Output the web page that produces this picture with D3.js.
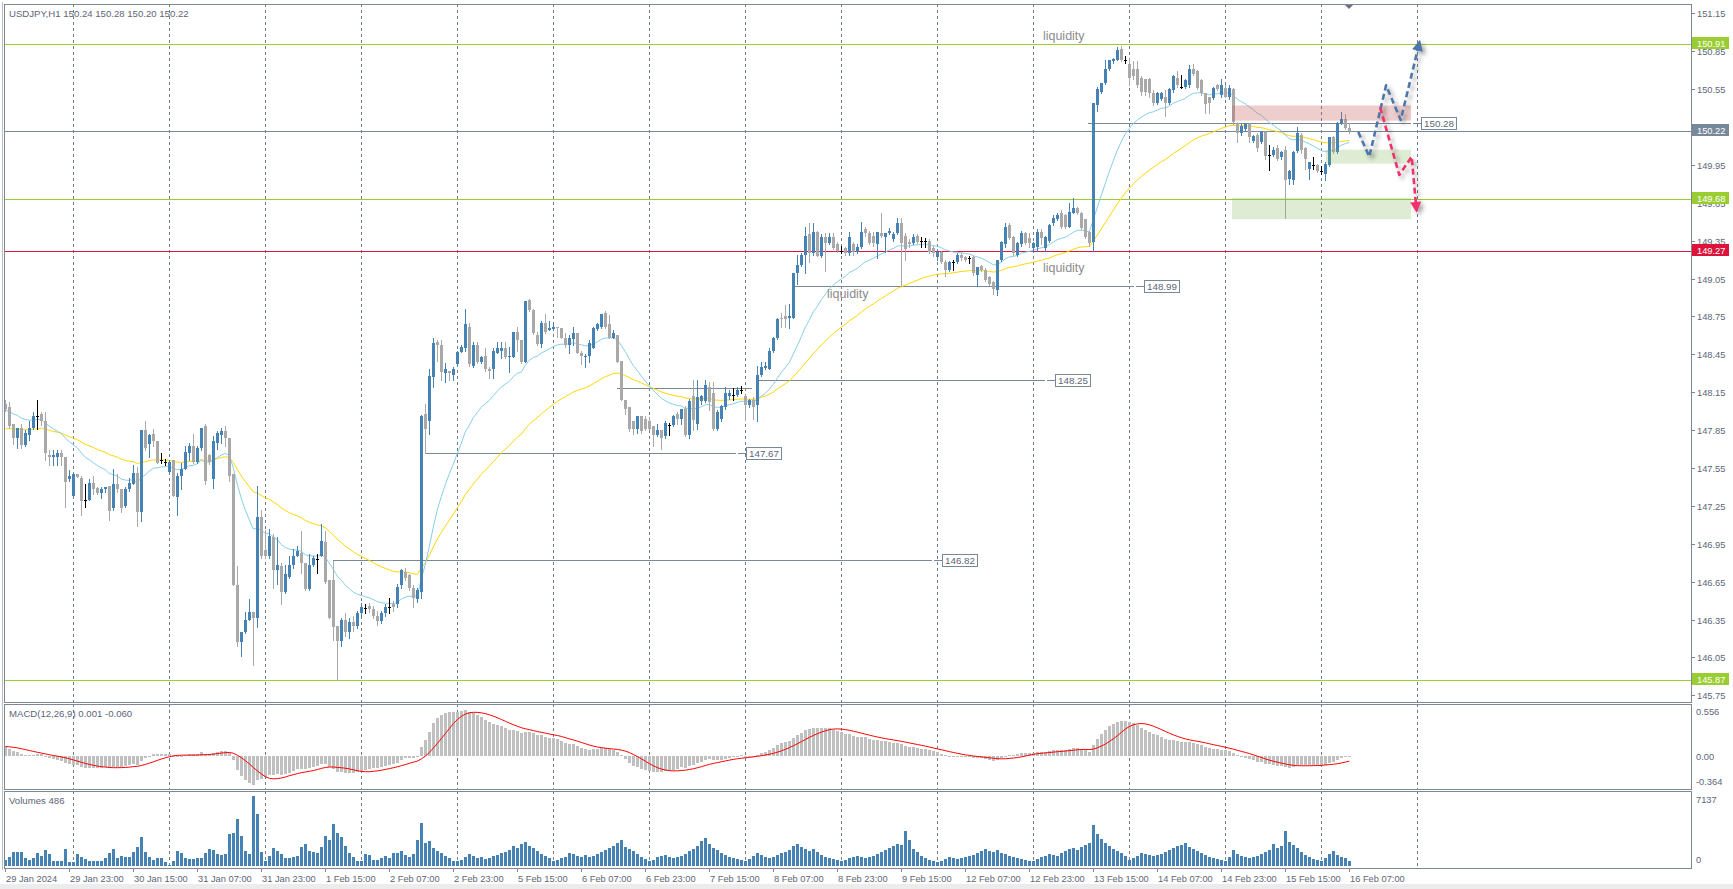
<!DOCTYPE html>
<html><head><meta charset="utf-8">
<script src="https://cdn.jsdelivr.net/npm/d3@7"></script>
<style>
html,body{margin:0;padding:0;background:#fff;}
svg{display:block;font-family:'Liberation Sans',Arial,sans-serif;}
</style></head><body>
<svg id="chart" width="1733" height="889"></svg>
<script>
// ---------------- DATA ----------------
const chartTitle = "USDJPY,H1  150.24 150.28 150.20 150.22";
const macdTitle = "MACD(12,26,9) 0.001 -0.060";
const volTitle = "Volumes 486";
// bar 0 = 29 Jan 2024 07:00, one bar per hour (trading hours only)
const timeLabels = ["29 Jan 2024","29 Jan 23:00","30 Jan 15:00","31 Jan 07:00","31 Jan 23:00","1 Feb 15:00","2 Feb 07:00","2 Feb 23:00","5 Feb 15:00","6 Feb 07:00","6 Feb 23:00","7 Feb 15:00","8 Feb 07:00","8 Feb 23:00","9 Feb 15:00","12 Feb 07:00","12 Feb 23:00","13 Feb 15:00","14 Feb 07:00","14 Feb 23:00","15 Feb 15:00","16 Feb 07:00"];
const labelEvery = 16;
const dayStartBars = [17,41,65,89,113,137,161,185,209,233,257,281,305,329,353];

const openP = [
148.06,148.03,147.90,147.79,147.87,147.73,147.81,147.87,147.96,147.98,
147.92,147.65,147.64,147.64,147.67,147.64,147.46,147.33,147.50,147.47,
147.30,147.30,147.43,147.39,147.35,147.38,147.41,147.23,147.42,147.38,
147.25,147.38,147.42,147.51,147.20,147.85,147.74,147.82,147.76,147.61,
147.60,147.52,147.61,147.32,147.49,147.54,147.67,147.72,147.60,147.71,
147.88,147.65,147.46,147.75,147.81,147.84,147.79,147.50,146.62,146.17,
146.25,146.35,146.41,146.36,147.16,146.90,146.85,147.00,146.74,146.77,
146.57,146.69,146.78,146.85,146.88,146.80,146.59,146.78,146.83,146.85,
146.96,146.66,146.66,146.30,146.18,146.35,146.25,146.33,146.30,146.40,
146.44,146.46,146.43,146.38,146.34,146.40,146.45,146.47,146.47,146.62,
146.73,146.70,146.60,146.51,146.57,147.98,147.92,148.27,148.55,148.52,
148.30,148.32,148.29,148.37,148.47,148.50,148.67,148.36,148.52,148.39,
148.44,148.33,148.33,148.46,148.48,148.50,148.43,148.43,148.63,148.56,
148.39,148.88,148.80,148.60,148.53,148.70,148.64,148.65,148.67,148.66,
148.58,148.52,148.57,148.62,148.46,148.43,148.44,148.50,148.65,148.67,
148.78,148.69,148.58,148.60,148.40,148.09,148.03,147.92,147.86,147.96,
147.94,147.92,147.88,147.81,147.85,147.80,147.89,147.89,147.98,147.94,
148.02,147.81,148.12,147.90,148.08,148.08,148.19,148.14,147.86,147.94,
148.03,148.12,148.13,148.13,148.17,148.12,148.05,148.09,148.05,148.29,
148.34,148.33,148.48,148.58,148.74,148.75,148.74,148.74,149.09,149.16,
149.24,149.40,149.25,149.42,149.23,149.38,149.33,149.38,149.32,149.27,
149.29,149.25,149.32,149.26,149.30,149.44,149.41,149.39,149.32,149.41,
149.38,149.41,149.36,149.41,149.49,149.39,149.34,149.33,149.39,149.35,
149.35,149.35,149.29,149.22,149.26,149.18,149.12,149.18,149.18,149.24,
149.22,149.21,149.22,149.08,149.15,149.12,149.06,149.02,148.96,149.20,
149.32,149.47,149.38,149.24,149.32,149.41,149.37,149.29,149.30,149.42,
149.29,149.35,149.49,149.52,149.57,149.55,149.46,149.57,149.61,149.57,
149.52,149.42,149.34,150.42,150.53,150.60,150.71,150.77,150.78,150.87,
150.78,150.75,150.71,150.71,150.64,150.63,150.63,150.52,150.44,150.47,
150.49,150.44,150.54,150.64,150.57,150.57,150.58,150.71,150.69,150.62,
150.52,150.49,150.48,150.58,150.50,150.56,150.49,150.55,150.28,150.20,
150.23,150.27,150.14,150.19,150.13,150.21,150.03,150.03,150.08,150.01,
150.07,149.84,149.83,150.06,150.19,150.08,149.92,149.95,149.95,149.90,
149.88,149.95,150.17,150.05,150.28,150.31,150.24];
const highP = [
148.09,148.07,147.90,147.87,147.90,147.85,147.92,147.99,148.09,147.99,
147.99,147.69,147.69,147.69,147.69,147.64,147.53,147.50,147.50,147.49,
147.42,147.46,147.49,147.40,147.40,147.40,147.41,147.54,147.50,147.38,
147.40,147.47,147.57,147.56,147.85,147.92,147.82,147.86,147.76,147.67,
147.62,147.61,147.61,147.51,147.59,147.72,147.75,147.82,147.72,147.87,
147.90,147.66,147.80,147.84,147.87,147.88,147.79,147.50,146.77,146.25,
146.41,146.51,146.41,147.41,147.22,147.06,147.07,147.03,147.00,146.80,
146.78,146.85,146.91,146.93,147.05,146.80,146.87,146.85,146.87,147.11,
147.05,146.66,146.81,146.30,146.36,146.40,146.36,146.38,146.42,146.48,
146.47,146.48,146.46,146.42,146.42,146.47,146.52,146.50,146.63,146.75,
146.76,146.71,146.62,146.60,147.97,148.06,148.33,148.58,148.56,148.56,
148.38,148.32,148.35,148.48,148.52,148.81,148.70,148.55,148.55,148.44,
148.50,148.35,148.50,148.55,148.55,148.55,148.51,148.63,148.67,148.56,
148.87,148.89,148.81,148.63,148.71,148.77,148.71,148.69,148.67,148.66,
148.62,148.60,148.67,148.62,148.48,148.45,148.56,148.67,148.70,148.77,
148.79,148.76,148.64,148.60,148.40,148.09,148.03,147.92,147.96,147.96,
147.96,147.95,147.88,147.90,147.85,147.92,147.91,147.97,147.99,148.02,
148.04,148.10,148.25,148.25,148.13,148.25,148.23,148.23,148.01,148.05,
148.19,148.17,148.18,148.19,148.20,148.13,148.10,148.11,148.36,148.39,
148.39,148.50,148.59,148.74,148.78,148.84,148.85,149.09,149.24,149.25,
149.46,149.49,149.49,149.43,149.40,149.41,149.41,149.41,149.34,149.31,
149.30,149.42,149.34,149.32,149.50,149.46,149.43,149.42,149.42,149.57,
149.41,149.45,149.42,149.53,149.53,149.41,149.36,149.40,149.40,149.38,
149.37,149.36,149.31,149.28,149.27,149.20,149.19,149.20,149.25,149.25,
149.23,149.23,149.23,149.14,149.16,149.13,149.07,149.03,149.20,149.35,
149.49,149.49,149.39,149.34,149.43,149.42,149.41,149.34,149.44,149.44,
149.39,149.48,149.55,149.57,149.59,149.56,149.65,149.69,149.62,149.58,
149.52,149.43,150.44,150.57,150.60,150.78,150.78,150.80,150.88,150.89,
150.81,150.79,150.77,150.77,150.65,150.63,150.64,150.54,150.53,150.53,
150.54,150.56,150.66,150.69,150.66,150.63,150.74,150.75,150.70,150.63,
150.52,150.49,150.57,150.59,150.63,150.58,150.58,150.56,150.29,150.27,
150.28,150.28,150.19,150.20,150.22,150.22,150.11,150.09,150.11,150.06,
150.10,149.91,150.06,150.25,150.20,150.09,149.97,150.01,149.96,149.94,
149.97,150.17,150.18,150.29,150.37,150.35,150.28];
const lowP = [
148.00,147.87,147.74,147.71,147.71,147.72,147.77,147.86,147.86,147.89,
147.61,147.57,147.57,147.57,147.57,147.24,147.45,147.32,147.48,147.18,
147.24,147.30,147.34,147.34,147.31,147.36,147.14,147.22,147.36,147.20,
147.24,147.37,147.42,147.09,147.13,147.69,147.64,147.72,147.59,147.59,
147.57,147.51,147.33,147.18,147.38,147.54,147.61,147.59,147.59,147.69,
147.42,147.58,147.39,147.70,147.75,147.72,147.45,146.62,146.14,146.06,
146.24,146.35,145.99,146.29,146.84,146.84,146.84,146.60,146.63,146.47,
146.56,146.68,146.76,146.85,146.72,146.58,146.58,146.77,146.72,146.85,
146.64,146.36,146.19,145.87,146.14,146.22,146.20,146.26,146.28,146.36,
146.40,146.41,146.36,146.31,146.32,146.38,146.40,146.42,146.45,146.60,
146.66,146.58,146.45,146.49,146.52,147.67,147.82,148.19,148.40,148.25,
148.23,148.25,148.25,148.36,148.47,148.48,148.36,148.35,148.38,148.38,
148.32,148.26,148.26,148.46,148.42,148.42,148.31,148.43,148.48,148.38,
148.39,148.79,148.61,148.52,148.51,148.62,148.64,148.64,148.59,148.58,
148.51,148.46,148.52,148.46,148.37,148.35,148.39,148.50,148.64,148.66,
148.66,148.58,148.58,148.39,148.09,147.98,147.84,147.82,147.83,147.83,
147.85,147.86,147.72,147.80,147.70,147.79,147.81,147.88,147.90,147.90,
147.80,147.79,147.85,147.86,148.06,148.07,148.01,147.85,147.85,147.92,
148.02,148.10,148.09,148.12,148.14,147.93,148.03,147.94,147.92,148.28,
148.33,148.33,148.47,148.57,148.67,148.67,148.66,148.74,149.01,149.15,
149.09,149.18,149.24,149.23,149.22,149.11,149.32,149.28,149.26,149.25,
149.24,149.24,149.24,149.25,149.29,149.39,149.32,149.31,149.21,149.38,
149.26,149.40,149.35,149.40,149.00,149.20,149.30,149.32,149.33,149.30,
149.30,149.25,149.23,149.20,149.17,149.07,149.11,149.12,149.17,149.20,
149.19,149.17,149.08,148.99,149.11,149.03,149.00,148.93,148.92,149.19,
149.30,149.36,149.24,149.23,149.31,149.32,149.30,149.27,149.27,149.32,
149.27,149.34,149.47,149.51,149.45,149.45,149.46,149.57,149.56,149.44,
149.37,149.31,149.27,150.38,150.52,150.59,150.70,150.76,150.78,150.77,
150.76,150.58,150.63,150.57,150.50,150.50,150.49,150.42,150.43,150.46,
150.34,150.43,150.53,150.57,150.56,150.56,150.57,150.66,150.55,150.50,
150.36,150.36,150.47,150.54,150.49,150.49,150.47,150.27,150.13,150.19,
150.22,150.13,150.13,150.06,150.12,150.00,149.91,150.02,149.99,150.00,
149.53,149.80,149.80,150.05,150.04,149.92,149.84,149.92,149.89,149.88,
149.83,149.94,150.04,150.04,150.27,150.23,150.20];
const closeP = [
148.02,147.88,147.79,147.87,147.73,147.83,147.87,147.96,147.96,147.92,
147.67,147.64,147.65,147.67,147.64,147.44,147.49,147.50,147.48,147.29,
147.30,147.43,147.38,147.35,147.38,147.40,147.21,147.42,147.38,147.23,
147.38,147.43,147.51,147.20,147.85,147.71,147.81,147.76,147.59,147.61,
147.60,147.60,147.33,147.49,147.54,147.68,147.72,147.60,147.71,147.87,
147.45,147.60,147.76,147.83,147.84,147.79,147.49,146.62,146.17,146.25,
146.35,146.41,146.36,147.16,146.85,146.85,147.01,146.74,146.78,146.57,
146.71,146.78,146.85,146.89,146.80,146.59,146.78,146.84,146.83,146.97,
146.65,146.36,146.29,146.18,146.35,146.25,146.33,146.30,146.40,146.45,
146.44,146.43,146.38,146.34,146.40,146.45,146.45,146.45,146.61,146.74,
146.68,146.60,146.52,146.58,147.96,147.86,148.28,148.54,148.52,148.31,
148.33,148.30,148.33,148.47,148.51,148.69,148.37,148.52,148.39,148.43,
148.33,148.32,148.48,148.50,148.50,148.43,148.44,148.63,148.56,148.39,
148.87,148.80,148.62,148.53,148.70,148.63,148.66,148.67,148.66,148.58,
148.52,148.58,148.62,148.46,148.44,148.44,148.54,148.66,148.69,148.77,
148.67,148.58,148.62,148.39,148.09,148.02,147.86,147.86,147.96,147.84,
147.86,147.86,147.81,147.85,147.79,147.91,147.89,147.96,147.94,148.02,
147.81,148.08,147.93,148.11,148.12,148.21,148.07,147.86,147.99,148.04,
148.14,148.14,148.13,148.17,148.17,148.05,148.09,148.03,148.29,148.35,
148.36,148.48,148.58,148.73,148.73,148.73,148.75,149.09,149.16,149.24,
149.39,149.25,149.42,149.23,149.38,149.33,149.38,149.29,149.27,149.27,
149.25,149.38,149.26,149.30,149.42,149.41,149.33,149.33,149.42,149.39,
149.41,149.43,149.40,149.49,149.33,149.28,149.32,149.38,149.34,149.35,
149.35,149.26,149.25,149.26,149.18,149.12,149.18,149.18,149.24,149.21,
149.20,149.21,149.09,149.14,149.12,149.04,149.01,148.97,149.20,149.34,
149.46,149.37,149.25,149.33,149.41,149.33,149.33,149.33,149.42,149.37,
149.38,149.47,149.53,149.55,149.46,149.46,149.58,149.61,149.57,149.45,
149.38,149.33,150.44,150.55,150.60,150.71,150.78,150.79,150.86,150.78,
150.78,150.64,150.65,150.58,150.53,150.53,150.52,150.44,150.52,150.52,
150.44,150.55,150.65,150.58,150.57,150.62,150.71,150.67,150.56,150.52,
150.43,150.44,150.56,150.55,150.58,150.49,150.56,150.29,150.20,150.26,
150.27,150.17,150.18,150.08,150.21,150.02,150.03,150.07,150.00,150.05,
149.83,149.90,150.05,150.20,150.07,150.00,149.97,149.95,149.90,149.90,
149.96,150.17,150.05,150.28,150.31,150.24,150.22];
const volumes = [
612,950,1394,1394,1394,782,612,850,1292,1054,
1632,1224,544,510,510,1700,408,408,1224,952,
680,510,510,510,510,850,1292,1700,850,1020,
952,952,1394,1972,2992,1394,952,612,782,850,
408,100,510,1530,1292,782,714,714,850,850,
1292,1700,1632,1224,1122,1190,3230,3400,4828,3094,
1530,1224,7137,5304,1462,544,1054,1870,1564,1224,
850,782,952,1020,1972,2244,1530,1462,1292,1972,
3060,2652,4284,3332,2924,2074,1292,952,510,510,
1224,1122,612,612,850,1054,850,1292,1300,1500,
1100,900,1200,2600,4400,2300,2500,1800,1500,1300,
1000,800,500,500,600,900,1200,1000,800,900,
700,800,1000,1100,1300,1400,1600,2000,1800,2200,
2400,2000,1800,1500,1200,1000,800,500,600,800,
900,1300,1200,1000,900,1100,900,1000,1200,1400,
1600,1800,2000,2300,2600,1900,1700,1500,1200,900,
700,500,600,900,1000,1100,900,800,900,1000,
1200,1500,1700,2000,2500,2900,2200,1800,1600,1300,
1100,900,800,700,600,500,700,1000,1300,1100,
900,800,900,1100,1300,1400,1600,2000,2200,1900,
1700,1500,1700,1400,1100,900,800,700,600,500,
600,800,900,1000,900,800,900,1000,1200,1400,
1600,1800,2000,2200,2100,3600,2600,1700,1400,1000,
800,600,500,400,500,700,900,800,700,800,
900,1000,1100,1300,1500,1700,1500,1400,1600,1300,
1200,1000,900,800,700,600,500,500,700,900,
1000,1200,1100,1000,1300,1500,1700,1800,1600,1900,
2100,2300,4200,3300,2800,2300,2000,1700,1500,1300,
1000,600,800,1000,1300,1200,1100,1000,1100,1200,
1400,1600,1800,2000,2100,2300,1900,1700,1500,1300,
1100,900,800,700,600,500,900,1600,1200,1000,
900,800,900,1000,1200,1400,1600,2200,1800,2000,
3600,2400,2100,1800,1400,1100,900,700,600,500,
800,1200,1500,1100,900,800,486];

// indicator settings / starting values read at the left edge
const emaFastPeriod = 20, emaSlowPeriod = 50;
const emaFastStart = 148.01, emaSlowStart = 147.86;
const macdFast = 12, macdSlow = 26, macdSignal = 9;
const macdFastStart = 148.02, macdSlowStart = 147.92, macdSignalStart = 0.107;

// axes
const priceTicks = [151.15,150.85,150.55,150.25,149.95,149.65,149.35,149.05,148.75,148.45,148.15,147.85,147.55,147.25,146.95,146.65,146.35,146.05,145.75];
const macdTicks = [0.556, 0.00, -0.364];
const macdTickText = ["0.556","0.00","-0.364"];
const volTicks = [7137, 0];

// horizontal levels
const levelPrices = [150.91, 149.68, 145.87, 149.27, 150.22];
const levelKinds  = ["green","green","green","red","bid"];
// price rays (bar index from / label position)
const rayPrices = [146.82, 147.67, 148.25, 148.99, 150.28];
const rayFrom   = [82, 105, 188.5, 197.5, 270.7];
const rayLabelAt= [234.2, 185.2, 262.4, 284.7, 353.85];
const plainRayPrice = [148.18], plainRayFrom=[152.9], plainRayTo=[186.7];
// zones
const zoneFrom = [306.7, 330.2, 306.7];
const zoneTo   = [351.35, 351.35, 351.35];
const zoneHigh = [150.42, 150.07, 149.69];
const zoneLow  = [150.30, 149.96, 149.52];
const zoneKind = ["supply","demand","demand"];
// texts
const noteText = ["liquidity","liquidity","liquidity"];
const noteBar  = [259.4, 259.4, 205.4];
const notePrice= [150.978, 149.14, 148.935];
// scenario arrows [bar, price]
const bullPath = [[338.25,150.21],[341.0,150.015],[345.2,150.58],[348.85,150.305],[353.7,150.94]];
const bearPath = [[343.7,150.406],[348.5,149.87],[351.6,150.015],[352.85,149.57]];

// ---------------- STYLE / LAYOUT ----------------
const W = 1733, H = 889;
const L = 4, R = 1691;
const mainTop = 4, mainBot = 702, macdTop = 704, macdBot = 789, volTop = 791, volBot = 868;
const C = {bull:"#4682B4", bear:"#A9A9A9", doji:"#000", grid:"#6f7d8c", frame:"#7d8795", text:"#5c6677",
  ema1:"#87CEEB", ema2:"#FFD700", macdHist:"#C0C0C0", macdSig:"#FF0000", vol:"#4682B4",
  green:"#9ACD32", red:"#DC143C", bid:"#778899", ray:"#778899", note:"#8c8c8c",
  supply:"rgba(200,90,90,0.3)", demand:"rgba(120,180,80,0.25)", bullArrow:"#4F76A8", bearArrow:"#F0306A"};
const FS = 9.3;

const svg = d3.select("#chart");
const x = d3.scaleLinear().domain([0, 336]).range([5.3, 1349.3]);
const y = d3.scaleLinear().domain([145.75, 151.15]).range([695.3, 13.3]);
const yM = d3.scaleLinear().domain([-0.364, 0.556]).range([788.4, 706.5]);
const yV = d3.scaleLinear().domain([0, 7137]).range([866, 796]);
const px = i => Math.round(x(i));

// defs
const defs = svg.append("defs");
const f = defs.append("filter").attr("id","shadow").attr("x","-50%").attr("y","-50%").attr("width","200%").attr("height","200%");
f.append("feDropShadow").attr("dx",3).attr("dy",3).attr("stdDeviation",2).attr("flood-color","#000").attr("flood-opacity",0.35);
["main","macd","vol"].forEach((n,k)=>{
  const t=[mainTop,macdTop,volTop][k], b=[mainBot,macdBot,volBot][k];
  defs.append("clipPath").attr("id","clip-"+n).append("rect").attr("x",L+1).attr("y",t+1).attr("width",R-L-1).attr("height",b-t-1);
});
// clip for axis tick labels so that level boxes hide them (as in the terminal)
const tickClip = defs.append("clipPath").attr("id","clip-ticks");

svg.append("rect").attr("width",W).attr("height",H).attr("fill","#fff");
svg.append("rect").attr("x",0).attr("y",884).attr("width",W).attr("height",5).attr("fill","#ececec");

const gMain = svg.append("g").attr("clip-path","url(#clip-main)");
const gMacd = svg.append("g").attr("clip-path","url(#clip-macd)");
const gVol = svg.append("g").attr("clip-path","url(#clip-vol)");

// grid
[[gMain,mainTop,mainBot],[gMacd,macdTop,macdBot],[gVol,volTop,volBot]].forEach(([g,t,b])=>{
  g.selectAll(null).data(dayStartBars).enter().append("line")
   .attr("x1",d=>px(d)+0.5).attr("x2",d=>px(d)+0.5).attr("y1",t).attr("y2",b)
   .attr("stroke",C.grid).attr("stroke-width",1).attr("stroke-dasharray","3,3");
});

// horizontal levels
gMain.selectAll(null).data(levelPrices).enter().append("line")
  .attr("x1",L).attr("x2",R).attr("y1",d=>Math.round(y(d))+0.5).attr("y2",d=>Math.round(y(d))+0.5)
  .attr("stroke",(d,i)=>C[levelKinds[i]]).attr("stroke-width",1);

// rays
rayPrices.forEach((p,k)=>{
  const yy = Math.round(y(p))+0.5, x1 = px(rayFrom[k]), xb = px(rayLabelAt[k]);
  gMain.append("line").attr("x1",x1).attr("x2",xb-10).attr("y1",yy).attr("y2",yy).attr("stroke",C.ray);
  gMain.append("line").attr("x1",xb-8).attr("x2",xb).attr("y1",yy).attr("y2",yy).attr("stroke",C.ray);
});
plainRayPrice.forEach((p,k)=>{
  const yy = Math.round(y(p))+0.5;
  gMain.append("line").attr("x1",px(plainRayFrom[k])).attr("x2",px(plainRayTo[k])).attr("y1",yy).attr("y2",yy).attr("stroke",C.ray);
});

// EMAs
function ema(src, period, start){ const a=2/(period+1); let e=start; return src.map((c,i)=>{ if(i>0) e=e+a*(c-e); return e; }); }
const ema1 = ema(closeP, emaFastPeriod, emaFastStart);
const ema2 = ema(closeP, emaSlowPeriod, emaSlowStart);
const lineGen = d3.line().x((d,i)=>x(i)).y(d=>y(d));
gMain.append("path").attr("d",lineGen(ema2)).attr("fill","none").attr("stroke",C.ema2).attr("stroke-width",1);
gMain.append("path").attr("d",lineGen(ema1)).attr("fill","none").attr("stroke",C.ema1).attr("stroke-width",1);

// candles
const N = closeP.length;
const gC = gMain.append("g").attr("shape-rendering","crispEdges");
for(let i=0;i<N;i++){
  const o=openP[i], c=closeP[i], h=highP[i], l=lowP[i];
  const cx = px(i);
  const col = o===c ? C.doji : (c>o ? C.bull : C.bear);
  const yh=Math.round(y(h)), yl=Math.round(y(l));
  gC.append("rect").attr("x",cx).attr("y",yh).attr("width",1).attr("height",Math.max(1,yl-yh+1)).attr("fill",col);
  const yo=Math.round(y(o)), yc=Math.round(y(c));
  const top=Math.min(yo,yc), hh=Math.max(1,Math.abs(yo-yc));
  gC.append("rect").attr("x",cx-1).attr("y",top).attr("width",3).attr("height",hh).attr("fill",col);
}

// zones
zoneFrom.forEach((z,k)=>{
  gMain.append("rect").attr("x",px(z)).attr("width",px(zoneTo[k])-px(z))
    .attr("y",y(zoneHigh[k])).attr("height",y(zoneLow[k])-y(zoneHigh[k]))
    .attr("fill",C[zoneKind[k]]);
});

// notes
noteText.forEach((t,k)=>{
  gMain.append("text").attr("x",x(noteBar[k])).attr("y",y(notePrice[k])+4.5)
   .attr("font-size",12.5).attr("fill",C.note).text(t);
});

// ray labels
rayPrices.forEach((p,k)=>{
  const yy = Math.round(y(p)), xb = px(rayLabelAt[k]);
  gMain.append("rect").attr("x",xb+0.5).attr("y",yy-5.5).attr("width",35).attr("height",12)
    .attr("fill","#fff").attr("stroke",C.ray).attr("stroke-width",1);
  gMain.append("text").attr("x",xb+3).attr("y",yy+4).attr("font-size",FS+0.5).attr("fill",C.text).text(p.toFixed(2));
});

// arrows
function drawArrow(pts, col){
  const P = pts.map(d=>[x(d[0]), y(d[1])]);
  const g = gMain.append("g").attr("filter","url(#shadow)");
  const n=P.length, a=P[n-2], b=P[n-1];
  const dx=b[0]-a[0], dy=b[1]-a[1], len=Math.hypot(dx,dy), ux=dx/len, uy=dy/len;
  const Q = P.slice(); Q[n-1] = [b[0]-ux*8, b[1]-uy*8];
  g.append("path").attr("d",d3.line()(Q)).attr("fill","none").attr("stroke",col).attr("stroke-width",2.6)
    .attr("stroke-dasharray","6,3.5").attr("stroke-linejoin","round");
  const tip=[b[0],b[1]], base=[b[0]-ux*11,b[1]-uy*11];
  g.append("polygon").attr("points",[tip,[base[0]-uy*5.5,base[1]+ux*5.5],[base[0]+uy*5.5,base[1]-ux*5.5]].map(p=>p.join(",")).join(" "))
    .attr("fill",col);
}
drawArrow(bullPath, C.bullArrow);
drawArrow(bearPath, C.bearArrow);

// MACD
const ef = ema(closeP, macdFast, macdFastStart), es = ema(closeP, macdSlow, macdSlowStart);
const macdMain = ef.map((v,i)=>v-es[i]);
const macdSig = macdMain.map((v,i)=>{ let s=0; for(let k=i-macdSignal+1;k<=i;k++) s += k<0 ? macdSignalStart : macdMain[k]; return s/macdSignal; });
const gH = gMacd.append("g").attr("shape-rendering","crispEdges");
macdMain.forEach((v,i)=>{
  const y0=Math.round(yM(0)), y1=Math.round(yM(v));
  gH.append("rect").attr("x",px(i)-1).attr("width",3).attr("y",Math.min(y0,y1)).attr("height",Math.max(1,Math.abs(y1-y0))).attr("fill",C.macdHist);
});
gMacd.append("path").attr("d",d3.line().x((d,i)=>x(i)).y(d=>yM(d))(macdSig)).attr("fill","none").attr("stroke",C.macdSig).attr("stroke-width",1);

// volumes
const gVb = gVol.append("g").attr("shape-rendering","crispEdges");
volumes.forEach((v,i)=>{
  const yt=Math.round(yV(v));
  gVb.append("rect").attr("x",px(i)-1).attr("width",3).attr("y",yt).attr("height",Math.max(1,866-yt)).attr("fill",C.vol);
});

// frames
[[mainTop,mainBot],[macdTop,macdBot],[volTop,volBot]].forEach(([t,b])=>{
  svg.append("rect").attr("x",L+0.5).attr("y",t+0.5).attr("width",R-L).attr("height",b-t)
    .attr("fill","none").attr("stroke",C.frame).attr("stroke-width",1);
});
svg.append("line").attr("x1",2.5).attr("x2",2.5).attr("y1",2).attr("y2",870).attr("stroke","#b8bec6");

// titles
svg.append("text").attr("x",9).attr("y",16.5).attr("font-size",FS+0.3).attr("fill",C.text).text(chartTitle);
svg.append("text").attr("x",9).attr("y",716.5).attr("font-size",FS+0.3).attr("fill",C.text).text(macdTitle);
svg.append("text").attr("x",9).attr("y",803.5).attr("font-size",FS+0.3).attr("fill",C.text).text(volTitle);

// right axis
const gA = svg.append("g");
priceTicks.forEach(p=>{
  const yy=Math.round(y(p))+0.5;
  gA.append("line").attr("x1",R).attr("x2",R+4).attr("y1",yy).attr("y2",yy).attr("stroke",C.frame);
  gA.append("text").attr("x",R+6).attr("y",yy+3.5).attr("font-size",FS).attr("fill",C.text).text(p.toFixed(2));
});
macdTicks.forEach((v,k)=>{
  const yy=[711.7,756,781.7][k];
  gA.append("text").attr("x",R+5).attr("y",yy+3.5).attr("font-size",FS).attr("fill",C.text).text(macdTickText[k]);
});
volTicks.forEach((v,k)=>{
  const yy=[799.3,859.3][k];
  gA.append("text").attr("x",R+5).attr("y",yy+3.5).attr("font-size",FS).attr("fill",C.text).text(String(v));
});
levelPrices.forEach((p,k)=>{
  const yy=Math.round(y(p));
  gA.append("rect").attr("x",R+1).attr("y",yy-7).attr("width",37).attr("height",12).attr("fill",C[levelKinds[k]]);
  gA.append("text").attr("x",R+6).attr("y",yy+2.5).attr("font-size",FS).attr("fill","#fff").text(p.toFixed(2));
});
// shift marker
svg.append("polygon").attr("points",`${px(336)-4},5 ${px(336)+4},5 ${px(336)},9`).attr("fill","#6b7380");

// bottom axis
timeLabels.forEach((t,k)=>{
  const xi = px(k*labelEvery);
  svg.append("line").attr("x1",xi+0.5).attr("x2",xi+0.5).attr("y1",volBot).attr("y2",volBot+4).attr("stroke",C.frame);
  svg.append("text").attr("x",xi+1).attr("y",882).attr("font-size",FS).attr("fill",C.text).text(t);
});
</script>
</body></html>
